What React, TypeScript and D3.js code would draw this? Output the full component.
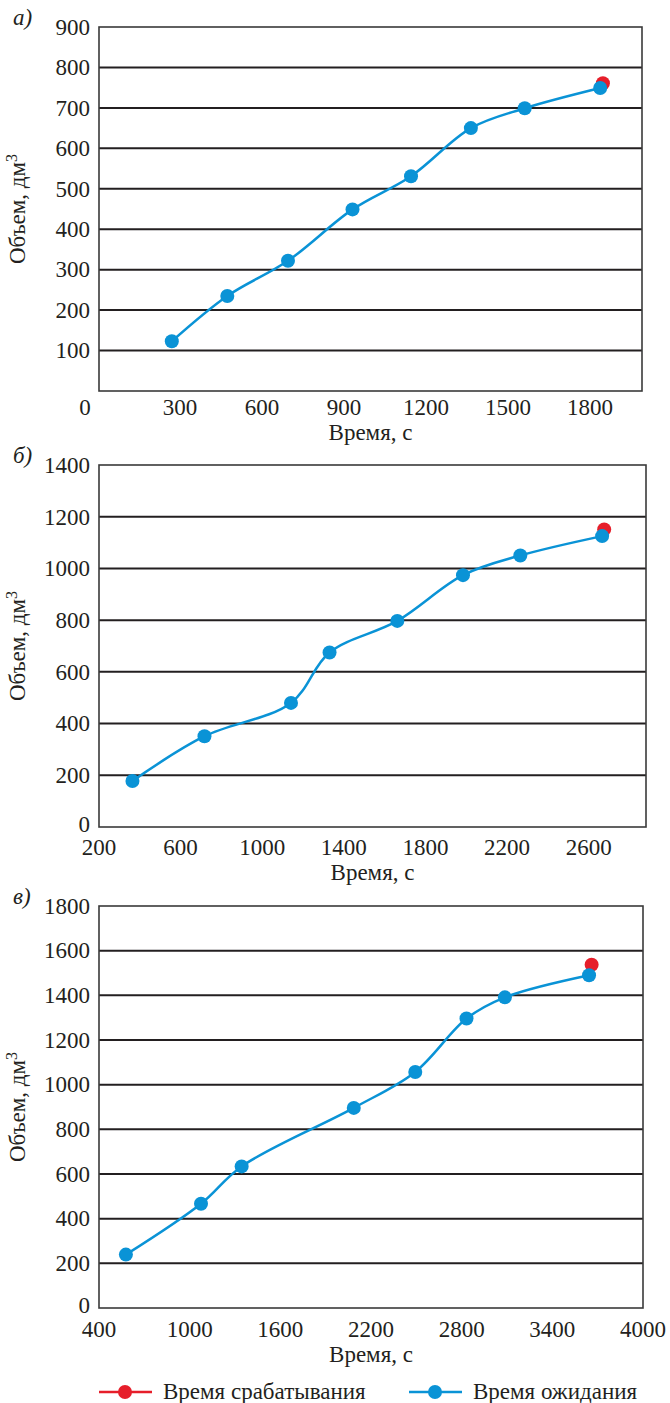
import React from 'react';
import * as d3 from 'd3';

// panel а)
const timeA = [270, 473, 695, 931, 1145, 1364, 1561, 1837];
const volA = [123, 235, 322, 449, 531, 650, 699, 749];
const trigA = [[1847, 761]];
const xTicksA = [0, 300, 600, 900, 1200, 1500, 1800];
const yTicksA = [100, 200, 300, 400, 500, 600, 700, 800, 900];

// panel б)
const timeB = [364, 717, 1141, 1330, 1662, 1984, 2265, 2666];
const volB = [178, 351, 480, 675, 797, 974, 1050, 1125];
const trigB = [[2676, 1151]];
const xTicksB = [200, 600, 1000, 1400, 1800, 2200, 2600];
const yTicksB = [0, 200, 400, 600, 800, 1000, 1200, 1400];

// panel в)
const timeC = [578, 1075, 1344, 2086, 2493, 2832, 3086, 3643];
const volC = [239, 467, 634, 896, 1057, 1296, 1391, 1490];
const trigC = [[3660, 1537]];
const xTicksC = [400, 1000, 1600, 2200, 2800, 3400, 4000];
const yTicksC = [0, 200, 400, 600, 800, 1000, 1200, 1400, 1600, 1800];

const legendNames = ['Время срабатывания', 'Время ожидания'];

const BLUE = '#0a93d6';
const RED = '#e61e2a';
const FONT = 'Liberation Serif, Times New Roman, DejaVu Serif, serif';
const FS = 23;

type PanelProps = {
  label: string;
  time: number[];
  vol: number[];
  trig: number[][];
  xDomain: [number, number];
  yDomain: [number, number];
  xTicks: number[];
  yTicks: number[];
  top: number;
  bottom: number;
  right: number;
  tickGap: number;
  zeroShift?: boolean;
};

const Panel = ({label, time, vol, trig, xDomain, yDomain, xTicks, yTicks, top, bottom, right, tickGap, zeroShift}: PanelProps) => {
  const left = 99;
  const x = d3.scaleLinear().domain(xDomain).range([zeroShift ? 98 : left, right]);
  const y = d3.scaleLinear().domain(yDomain).range([bottom, top]);
  const pts = time.map((t, i) => [t, vol[i]]);
  const path = d3.line<number[]>()
    .x(d => x(d[0]))
    .y(d => y(d[1]))
    .curve(d3.curveCatmullRom.alpha(0.5))(pts) || '';

  return (
    <g>
      <text x={13} y={top - 2} fontStyle="italic" fontSize={FS}>{label}</text>
      {yTicks.filter(v => v !== yDomain[1] && v !== yDomain[0]).map(v => (
        <line key={v} x1={left} x2={right} y1={y(v)} y2={y(v)} stroke="#231f20" strokeWidth={2} />
      ))}
      <rect x={left} y={top} width={right - left} height={bottom - top} fill="none" stroke="#3a3a3a" strokeWidth={1.6} />
      {yTicks.map(v => (
        <text key={v} x={90} y={y(v)} dy={v === 0 ? '0.2em' : '0.34em'} textAnchor="end" fontSize={FS}>{v}</text>
      ))}
      {xTicks.map(v => (
        <text key={v} x={x(v)} dx={zeroShift && v === 0 ? -13 : 0} y={bottom + tickGap} textAnchor="middle" fontSize={FS}>{v}</text>
      ))}
      <text x={(left + right) / 2} y={bottom + tickGap + 25} textAnchor="middle" fontSize={FS}>Время, с</text>
      <text transform={`translate(25,${(top + bottom) / 2}) rotate(-90)`} textAnchor="middle" fontSize={FS}>
        Объем, дм<tspan dy={-8} fontSize={16}>3</tspan>
      </text>
      {trig.map((d, i) => (
        <circle key={'r' + i} cx={x(d[0])} cy={y(d[1])} r={7} fill={RED} />
      ))}
      <path d={path} fill="none" stroke={BLUE} strokeWidth={2.5} />
      {pts.map((d, i) => (
        <circle key={i} cx={x(d[0])} cy={y(d[1])} r={7} fill={BLUE} />
      ))}
    </g>
  );
};

const App = () => {
  const legendY = 1392;
  const legendItems = [
    {name: legendNames[0], color: RED, x0: 99},
    {name: legendNames[1], color: BLUE, x0: 409},
  ];
  return (
    <svg width={670} height={1403} style={{position: 'absolute', left: 0, top: 0, background: '#fff', fontFamily: FONT}}
      fill="#231f20">
      <Panel label="а)" time={timeA} vol={volA} trig={trigA} xDomain={[0, 1990]} yDomain={[0, 900]}
        xTicks={xTicksA} yTicks={yTicksA} top={27} bottom={391} right={642} tickGap={24} zeroShift />
      <Panel label="б)" time={timeB} vol={volB} trig={trigB} xDomain={[200, 2881]} yDomain={[0, 1400]}
        xTicks={xTicksB} yTicks={yTicksB} top={465} bottom={827} right={646} tickGap={28} />
      <Panel label="в)" time={timeC} vol={volC} trig={trigC} xDomain={[400, 4000]} yDomain={[0, 1800]}
        xTicks={xTicksC} yTicks={yTicksC} top={906} bottom={1308} right={643} tickGap={29} />
      {legendItems.map(it => (
        <g key={it.name}>
          <line x1={it.x0} x2={it.x0 + 53} y1={legendY} y2={legendY} stroke={it.color} strokeWidth={2.5} />
          <circle cx={it.x0 + 26} cy={legendY} r={7} fill={it.color} />
          <text x={it.x0 + 64} y={legendY + 7} fontSize={FS}>{it.name}</text>
        </g>
      ))}
    </svg>
  );
};

export default App;
